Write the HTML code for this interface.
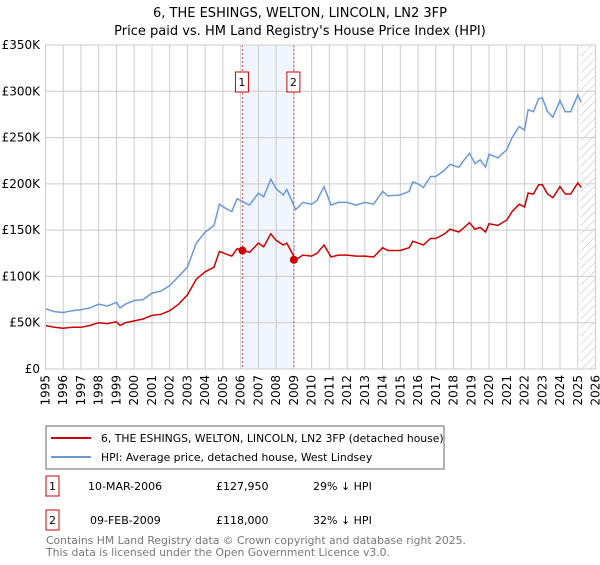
<!DOCTYPE html>
<html><head><meta charset="utf-8"><style>
body{margin:0;width:600px;height:560px;background:#fff;font-family:"Liberation Sans","DejaVu Sans",sans-serif;overflow:hidden}
svg text{font-family:"DejaVu Sans","Liberation Sans",sans-serif}
</style></head><body>
<svg id="c" width="600" height="560">
<defs><pattern id="h" width="6" height="6" patternUnits="userSpaceOnUse" patternTransform="rotate(45)"><line x1="0" y1="0" x2="0" y2="6" stroke="#bbb" stroke-width="1"/></pattern></defs>
<text x="300" y="17" text-anchor="middle" font-size="13">6, THE ESHINGS, WELTON, LINCOLN, LN2 3FP</text>
<text x="300" y="35" text-anchor="middle" font-size="13">Price paid vs. HM Land Registry's House Price Index (HPI)</text>
<g id="grid"></g><g id="marks"></g>
<rect x="46" y="426" width="398" height="43" fill="#fff" stroke="#666"/>
<line x1="51" y1="438" x2="91" y2="438" stroke="#cc0000" stroke-width="2"/>
<text x="101" y="442" font-size="10.8">6, THE ESHINGS, WELTON, LINCOLN, LN2 3FP (detached house)</text>
<line x1="51" y1="457" x2="91" y2="457" stroke="#6a9ad6" stroke-width="2"/>
<text x="101" y="461" font-size="10.8">HPI: Average price, detached house, West Lindsey</text>
<g font-size="11">
<rect x="46" y="476" width="13" height="20" fill="#fff" stroke="#cc0000"/><text x="52.5" y="490" text-anchor="middle">1</text>
<text x="88" y="490">10-MAR-2006</text>
<text x="216" y="490">£127,950</text>
<text x="313" y="490">29% ↓ HPI</text>
<rect x="46" y="510" width="13" height="20" fill="#fff" stroke="#cc0000"/><text x="52.5" y="524" text-anchor="middle">2</text>
<text x="90" y="524">09-FEB-2009</text>
<text x="216" y="524">£118,000</text>
<text x="313" y="524">32% ↓ HPI</text>
</g>
<text x="46" y="544" font-size="10.8" fill="#777">Contains HM Land Registry data © Crown copyright and database right 2025.</text>
<text x="46" y="556" font-size="10.8" fill="#777">This data is licensed under the Open Government Licence v3.0.</text>
</svg>
<script>
const dates=[1995,1995.5,1996,1996.5,1997,1997.5,1998,1998.5,1999,1999.2,1999.5,2000,2000.5,2001,2001.5,2002,2002.5,2003,2003.5,2004,2004.5,2004.8,2005.2,2005.5,2005.8,2006.2,2006.5,2007,2007.3,2007.7,2008,2008.4,2008.6,2009.1,2009.5,2010,2010.3,2010.7,2011.1,2011.5,2012,2012.5,2013,2013.5,2014,2014.3,2015,2015.5,2015.7,2016,2016.3,2016.7,2017,2017.5,2017.8,2018.3,2018.6,2018.9,2019.2,2019.5,2019.8,2020,2020.5,2021,2021.3,2021.7,2022,2022.2,2022.5,2022.8,2023,2023.3,2023.6,2024,2024.3,2024.6,2025,2025.2];
const hpi=[65,62,61,63,64,66,70,68,72,66,70,74,75,82,84,90,100,110,136,148,155,178,173,170,184,180,177,190,186,205,195,188,194,172,180,178,182,197,177,180,180,177,180,178,192,187,188,192,202,200,196,208,208,215,221,218,226,233,222,226,218,232,228,237,250,262,258,280,278,292,293,278,272,290,278,278,296,288];
const prop=[47,45,44,45,45,47,50,49,51,47,50,52,54,58,59,63,70,80,97,105,110,127,124,122,130,128,126,136,132,146,139,134,136,118,123,122,125,134,121,123,123,122,122,121,131,128,128,131,138,136,134,141,141,146,151,148,153,158,151,153,148,157,155,161,170,178,175,190,189,199,199,189,185,197,189,189,201,196];
const yTicks=[0,50,100,150,200,250,300,350];
const yLabels=["£0","£50K","£100K","£150K","£200K","£250K","£300K","£350K"];
const sales=[{t:2006.1,v:127.95,n:"1"},{t:2009.0,v:118,n:"2"}];
const X0=45.5,X1=595.5,Y0=369,Y1=45;
const x=t=>X0+(t-1995)/31*(X1-X0), y=v=>Y0-v/350*(Y0-Y1);
const NS="http://www.w3.org/2000/svg";
const g=document.getElementById('grid'), m=document.getElementById('marks');
function mk(p,tag,a){const e=document.createElementNS(NS,tag);for(const k in a)e.setAttribute(k,a[k]);p.appendChild(e);return e;}
let band=mk(g,'rect',{x:x(sales[0].t),y:Y1,width:x(sales[1].t)-x(sales[0].t),height:Y0-Y1,fill:'#f1f5fd'});


let hat=mk(g,'rect',{x:x(2025.15),y:Y1,width:X1-x(2025.15),height:Y0-Y1,fill:'url(#h)'});


for(let yr=1995;yr<=2026;yr++){
 let l=mk(g,'line',{x1:x(yr),x2:x(yr),y1:Y1,y2:Y0,stroke:'#ccc','stroke-width':1});
 
 
 let t=mk(g,'text',{transform:`translate(${x(yr)+4},375) rotate(-90)`,'text-anchor':'end','font-size':12});
 t.textContent=yr;
 
 
}
yTicks.forEach((v,i)=>{
 let l=mk(g,'line',{x1:X0,x2:X1,y1:y(v),y2:y(v),stroke:'#ccc','stroke-width':1});
 
 
 let t=mk(g,'text',{x:40,y:y(v)+4,'text-anchor':'end','font-size':12});
 t.textContent=yLabels[i];
 
 
});
sales.forEach(s=>{
 let l=mk(m,'line',{x1:x(s.t),x2:x(s.t),y1:Y1,y2:Y0,stroke:'#e05555','stroke-dasharray':'2,2'});
 
 
 let r=mk(m,'rect',{x:x(s.t)-7,y:72,width:13,height:20,fill:'#fff',stroke:'#cc0000'});
 
 
 let t=mk(m,'text',{x:x(s.t)-0.5,y:86,'text-anchor':'middle','font-size':11});t.textContent=s.n;
});
function path(vals,col,name){
 let d=vals.map((v,i)=>(i?'L':'M')+x(dates[i]).toFixed(1)+','+y(v).toFixed(1)).join('');
 let p=mk(m,'path',{d,fill:'none',stroke:col,'stroke-width':1.5});
 
 
}
path(hpi,'#6a9ad6','hpi-line');
path(prop,'#cc0000','property-line');
sales.forEach(s=>{
 let c=mk(m,'circle',{cx:x(s.t),cy:y(s.v),r:4,fill:'#cc0000'});
 
 
});
mk(m,'rect',{x:X0,y:Y1,width:X1-X0,height:Y0-Y1,fill:'none',stroke:'#ccc'});
</script>
</body></html>
